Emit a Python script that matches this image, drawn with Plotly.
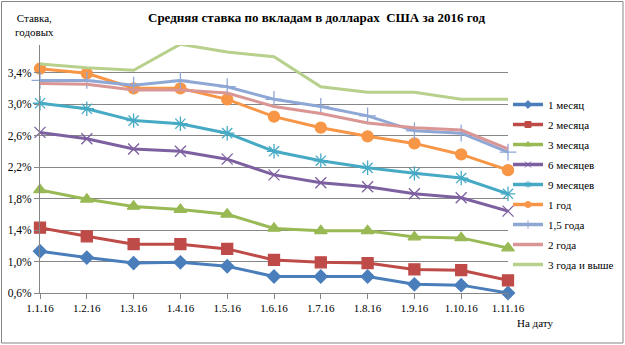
import plotly.graph_objects as go

dates = ["1.1.16", "1.2.16", "1.3.16", "1.4.16", "1.5.16", "1.6.16",
         "1.7.16", "1.8.16", "1.9.16", "1.10.16", "1.11.16"]

m1 = [1.13, 1.05, 0.98, 0.99, 0.94, 0.81, 0.81, 0.81, 0.71, 0.70, 0.60]
m2 = [1.43, 1.32, 1.22, 1.22, 1.16, 1.02, 0.99, 0.98, 0.90, 0.89, 0.76]
m3 = [1.91, 1.79, 1.70, 1.66, 1.60, 1.42, 1.39, 1.39, 1.31, 1.30, 1.17]
m6 = [2.64, 2.56, 2.43, 2.40, 2.30, 2.10, 2.00, 1.95, 1.86, 1.81, 1.64]
m9 = [3.01, 2.94, 2.79, 2.75, 2.63, 2.40, 2.28, 2.19, 2.12, 2.06, 1.86]
y1 = [3.45, 3.39, 3.20, 3.20, 3.06, 2.84, 2.70, 2.59, 2.50, 2.36, 2.16]
y15 = [3.30, 3.30, 3.24, 3.30, 3.22, 3.06, 2.97, 2.85, 2.66, 2.63, 2.39]
y2 = [3.26, 3.25, 3.18, 3.18, 3.14, 2.97, 2.88, 2.76, 2.70, 2.67, 2.43]
y3 = [3.51, 3.46, 3.43, 3.76, 3.66, 3.60, 3.22, 3.15, 3.15, 3.06, 3.06]

series_names = ["1 месяц", "2 месяца", "3 месяца", "6 месяцев", "9 месяцев",
                "1 год", "1,5 года", "2 года", "3 года и выше"]
series_values = [m1, m2, m3, m6, m9, y1, y15, y2, y3]

y_ticks = [0.6, 1.0, 1.4, 1.8, 2.2, 2.6, 3.0, 3.4]
y_tick_text = ["0,6%", "1,0%", "1,4%", "1,8%", "2,2%", "2,6%", "3,0%", "3,4%"]

colors = ["#4A7EBB", "#BE4B48", "#98B954", "#7D60A0", "#46AAC5",
          "#F79646", "#8EA7D5", "#D99694", "#B7D08C"]
symbols = ["diamond", "square", "triangle-up", "x-thin-open", "asterisk-open",
           "circle", "cross-thin-open", None, None]
sizes = [10, 11, 11, 11, 12, 11, 12, 0, 0]

W, H = 625, 345
L, R, T, B = 40, 117, 45, 52
pw, ph = W - L - R, H - T - B

def px(x):
    return (x - L) / pw

def py(y):
    return (H - B - y) / ph

FONT = "Liberation Serif"

fig = go.Figure()
for i, (name, vals, col, sym, sz) in enumerate(zip(series_names, series_values, colors, symbols, sizes)):
    kw = dict(mode="lines")
    lkw = dict(mode="lines")
    if sym:
        kw = dict(mode="lines+markers",
                  marker=dict(symbol=sym, size=sz, color=col,
                              line=dict(color=col, width=1.3)))
        lkw = dict(mode="lines+markers",
                   marker=dict(symbol=sym, size=6, color=col,
                               line=dict(color=col, width=1)))
    fig.add_trace(go.Scatter(x=dates, y=vals, name=name, showlegend=False,
                             line=dict(color=col, width=3),
                             cliponaxis=False, **kw))
    fig.add_trace(go.Scatter(x=[None], y=[None], name=name, showlegend=True,
                             legendgroup="g%d" % i,
                             line=dict(color=col, width=3.5), **lkw))

fig.update_layout(
    width=W, height=H,
    margin=dict(l=L, r=R, t=T, b=B, autoexpand=False),
    paper_bgcolor="white", plot_bgcolor="white",
    font=dict(family=FONT, size=11, color="black"),
    showlegend=True,
    legend=dict(x=px(508), y=py(90), xanchor="left", yanchor="top",
                bgcolor="rgba(0,0,0,0)", font=dict(family=FONT, size=11),
                itemwidth=30, tracegroupgap=1),
    xaxis=dict(type="category", range=[0, len(dates) - 1],
               showline=True, linecolor="#868686", linewidth=1,
               ticks="outside", ticklen=5, tickcolor="#868686",
               showgrid=False, zeroline=False,
               tickfont=dict(family=FONT, size=11)),
    yaxis=dict(range=[0.6, 3.75], tickvals=y_ticks, ticktext=y_tick_text,
               showline=True, linecolor="#868686", linewidth=1,
               ticks="outside", ticklen=5, tickcolor="#868686",
               showgrid=True, gridcolor="#868686", gridwidth=1,
               zeroline=False, tickfont=dict(family=FONT, size=11.5)),
)

fig.add_annotation(text="<b>Средняя ставка по вкладам в долларах  США за 2016 год</b>",
                   xref="paper", yref="paper", x=px(316), y=py(17),
                   xanchor="center", yanchor="middle", showarrow=False,
                   font=dict(family=FONT, size=13))
fig.add_annotation(text="Ставка,<br>годовых", xref="paper", yref="paper",
                   x=px(34), y=py(25), xanchor="center", yanchor="middle",
                   showarrow=False, align="center",
                   font=dict(family=FONT, size=11))
fig.add_annotation(text="На дату", xref="paper", yref="paper",
                   x=px(535), y=py(323), xanchor="center", yanchor="middle",
                   showarrow=False, font=dict(family=FONT, size=11))

fig.add_shape(type="rect", xref="paper", yref="paper",
              x0=px(1.5), x1=px(623), y0=py(343), y1=py(1.5),
              line=dict(color="#868686", width=1), fillcolor="rgba(0,0,0,0)",
              layer="below")

fig.write_html("out.html")
